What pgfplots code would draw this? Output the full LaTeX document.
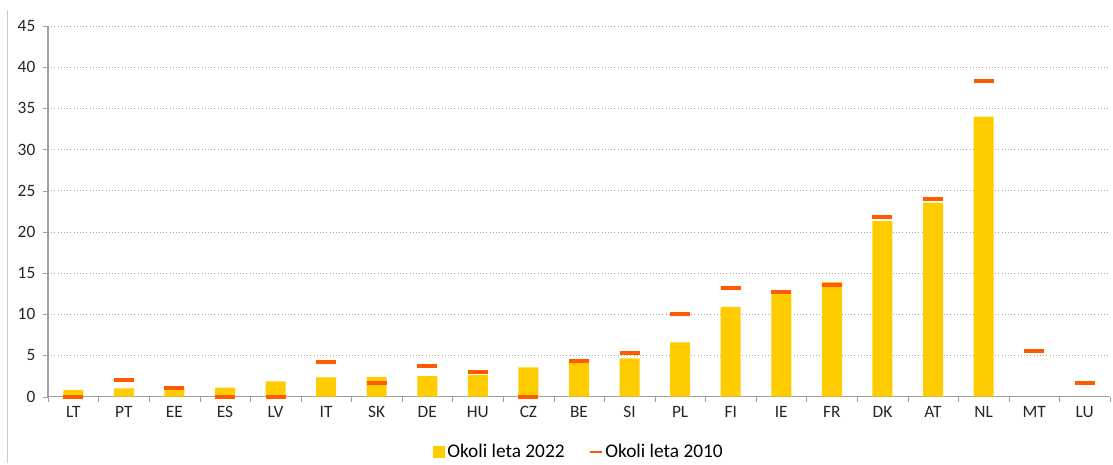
\documentclass[border=0pt]{standalone}
\usepackage{pgfplots}
\pgfplotsset{compat=1.18}
\usepackage{fontspec}
\setmainfont{Carlito}
\definecolor{bar22}{RGB}{255,204,0}
\definecolor{mark10}{RGB}{255,90,0}
\definecolor{axgray}{RGB}{160,160,160}
\begin{document}
\begin{tikzpicture}
\begin{axis}[
    scale only axis,
    width=796.5pt, height=278pt,
    xmin=-0.5, xmax=20.5,
    ymin=0, ymax=45,
    ytick={0,5,...,45},
    xtick={0,...,20},
    xticklabels={LT,PT,EE,ES,LV,IT,SK,DE,HU,CZ,BE,SI,PL,FI,IE,FR,DK,AT,NL,MT,LU},
    minor xtick={-0.5,0.5,...,20.5},
    major x tick style={draw=none},
    minor tick length=4pt,
    major tick length=4pt,
    tick align=outside,
    tick style={axgray},
    axis x line*=bottom,
    axis y line*=left,
    axis line style={axgray, line width=0.8pt},
    ymajorgrids,
    grid style={gray!70, dotted, line width=0.5pt},
    ticklabel style={font=\fontsize{13}{15}\selectfont, text=black!85},
    yticklabel style={xshift=-2pt},
    /pgf/number format/assume math mode=true,
    legend style={at={(0.5,-0.148)}, anchor=center, draw=none,
        font=\fontsize{14.5}{17}\selectfont, legend columns=-1,
        /tikz/every even column/.append style={column sep=16pt}},
    legend cell align=left,
]
\coordinate (ll) at (rel axis cs:0,0);
\coordinate (ur) at (rel axis cs:1,1);
\addplot[ybar, bar width=15pt, fill=bar22, draw=none,
    legend image code/.code={\fill[bar22] (0pt,-4.5pt) rectangle (9pt,4.5pt);}]
coordinates {
(0,0.8) (1,1.0) (2,1.2) (3,1.1) (4,1.85) (5,2.35) (6,2.4) (7,2.5) (8,2.65)
(9,3.55) (10,4.1) (11,4.65) (12,6.6) (13,10.9) (14,12.5) (15,13.9) (16,21.3)
(17,23.55) (18,34.0)
};
\addlegendentry{Okoli leta 2022}
\addplot[only marks, mark=-, mark size=7.5pt, mark options={line width=3pt, draw=mark10}, draw=mark10,
    legend image code/.code={\draw[mark10, line width=1.5pt] (0pt,0pt) -- (9pt,0pt);}]
coordinates {
(0,0) (1,2.0) (2,1.1) (3,0) (4,0) (5,4.25) (6,1.65) (7,3.7) (8,3.05)
(9,0) (10,4.3) (11,5.3) (12,10.0) (13,13.25) (14,12.7) (15,13.5) (16,21.8)
(17,24.0) (18,38.3) (19,5.5) (20,1.6)
};
\addlegendentry{Okoli leta 2010}
\end{axis}
\path[use as bounding box] ([xshift=-36pt,yshift=-49.5pt]ll) rectangle ([xshift=2.25pt,yshift=19.5pt]ur);
\draw[gray!40, line width=0.6pt] ([xshift=-30.75pt,yshift=-49.5pt]ll) -- ([xshift=-30.75pt,yshift=12pt]ll |- ur);
\end{tikzpicture}
\end{document}
